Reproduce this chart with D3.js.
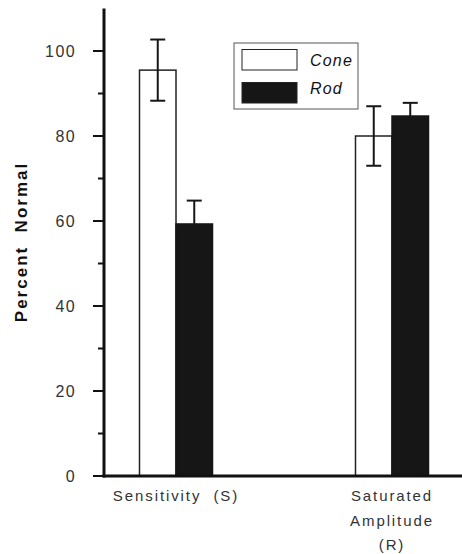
<!DOCTYPE html>
<html>
<head>
<meta charset="utf-8">
<script src="https://cdn.jsdelivr.net/npm/d3@7"></script>
<style>
  html, body { margin: 0; padding: 0; background: #fff; }
  svg { display: block; }
  text { font-family: "Liberation Sans", Arial, sans-serif; }
</style>
</head>
<body>
<svg id="chart" width="462" height="554"></svg>
<script>
// ---- data ----
const categories = ["Sensitivity (S)", "Saturated Amplitude (R)"];
const categoryLines = [["Sensitivity  (S)"], ["Saturated", "Amplitude", "(R)"]];
const seriesNames = ["Cone", "Rod"];
const coneValues = [95.5, 80.0];
const coneErrors = [7.2, 7.0];
const rodValues = [59.3, 84.7];
const rodErrors = [5.5, 3.1];
const yTicks = [0, 20, 40, 60, 80, 100];
const yMinorTicks = [10, 30, 50, 70, 90];

const seriesValues = { Cone: coneValues, Rod: rodValues };
const seriesErrors = { Cone: coneErrors, Rod: rodErrors };
const seriesFill = { Cone: "#ffffff", Rod: "#161616" };

const svg = d3.select("#chart");

const y = d3.scaleLinear().domain([0, 110]).range([476, 8.5]);
const x = d3.scalePoint().domain(categories).range([176, 392]);
const xs = d3.scaleBand().domain(seriesNames).range([-36.5, 36.5]).padding(0);

const axisX = 104;

// y axis line
svg.append("line")
  .attr("x1", axisX).attr("x2", axisX)
  .attr("y1", y(110)).attr("y2", y(0) + 1.5)
  .attr("stroke", "#111").attr("stroke-width", 3);

// bars
const data = [];
categories.forEach((c, i) => seriesNames.forEach(s => data.push({ c, s, v: seriesValues[s][i], e: seriesErrors[s][i] })));

svg.selectAll("rect.bar").data(data).enter().append("rect")
  .attr("class", "bar")
  .attr("x", d => x(d.c) + xs(d.s))
  .attr("y", d => y(d.v))
  .attr("width", xs.bandwidth())
  .attr("height", d => y(0) - y(d.v))
  .attr("fill", d => seriesFill[d.s])
  .attr("stroke", d => d.s === "Cone" ? "#222" : "#161616")
  .attr("stroke-width", 1.5);

// error bars
const eb = svg.selectAll("g.eb").data(data).enter().append("g").attr("class", "eb");
eb.append("line")
  .attr("x1", d => x(d.c) + xs(d.s) + xs.bandwidth() / 2)
  .attr("x2", d => x(d.c) + xs(d.s) + xs.bandwidth() / 2)
  .attr("y1", d => y(d.v + d.e))
  .attr("y2", d => d.s === "Rod" ? y(d.v) : y(d.v - d.e))
  .attr("stroke", "#161616").attr("stroke-width", 2);
eb.append("line")
  .attr("x1", d => x(d.c) + xs(d.s) + xs.bandwidth() / 2 - 7.5)
  .attr("x2", d => x(d.c) + xs(d.s) + xs.bandwidth() / 2 + 7.5)
  .attr("y1", d => y(d.v + d.e)).attr("y2", d => y(d.v + d.e))
  .attr("stroke", "#161616").attr("stroke-width", 2);
eb.filter(d => d.s === "Cone").append("line")
  .attr("x1", d => x(d.c) + xs(d.s) + xs.bandwidth() / 2 - 7.5)
  .attr("x2", d => x(d.c) + xs(d.s) + xs.bandwidth() / 2 + 7.5)
  .attr("y1", d => y(d.v - d.e)).attr("y2", d => y(d.v - d.e))
  .attr("stroke", "#161616").attr("stroke-width", 2);

// x axis baseline
svg.append("line")
  .attr("x1", axisX - 1.5).attr("x2", 462)
  .attr("y1", y(0)).attr("y2", y(0))
  .attr("stroke", "#111").attr("stroke-width", 3);

// y ticks
svg.selectAll("line.major").data(yTicks).enter().append("line")
  .attr("x1", axisX - 11).attr("x2", axisX)
  .attr("y1", d => y(d)).attr("y2", d => y(d))
  .attr("stroke", "#111").attr("stroke-width", 2);
svg.selectAll("line.minor").data(yMinorTicks).enter().append("line")
  .attr("x1", axisX - 6).attr("x2", axisX)
  .attr("y1", d => y(d)).attr("y2", d => y(d))
  .attr("stroke", "#111").attr("stroke-width", 2);
svg.selectAll("text.tick").data(yTicks).enter().append("text")
  .attr("x", 76).attr("y", d => y(d) + 6)
  .attr("text-anchor", "end")
  .attr("font-size", 16).attr("letter-spacing", 1.4)
  .attr("fill", "#333")
  .text(d => d);

// y label
svg.append("text")
  .attr("transform", "translate(27,242) rotate(-90)")
  .attr("text-anchor", "middle")
  .attr("font-size", 17).attr("font-weight", "bold").attr("letter-spacing", 2)
  .attr("fill", "#111")
  .attr("xml:space", "preserve")
  .style("white-space", "pre")
  .text("Percent  Normal");

// category labels
categories.forEach((c, i) => {
  const t = svg.append("text")
    .attr("x", x(c)).attr("y", 501)
    .attr("text-anchor", "middle")
    .attr("font-size", 15).attr("letter-spacing", 1.9)
    .attr("fill", "#333")
    .attr("xml:space", "preserve")
    .style("white-space", "pre");
  categoryLines[i].forEach((ln, j) => {
    t.append("tspan").attr("x", x(c)).attr("dy", j === 0 ? 0 : 24.5).text(ln);
  });
});

// legend
const lg = svg.append("g");
lg.append("rect").attr("x", 234).attr("y", 43).attr("width", 124).attr("height", 66)
  .attr("fill", "#fff").attr("stroke", "#555").attr("stroke-width", 1);
seriesNames.forEach((s, i) => {
  lg.append("rect").attr("x", 242).attr("y", 49.5 + i * 33).attr("width", 55).attr("height", 20.5)
    .attr("fill", seriesFill[s]).attr("stroke", "#222").attr("stroke-width", 1);
  lg.append("text").attr("x", 310).attr("y", 65.5 + i * 28.5)
    .attr("font-size", 16).attr("font-style", "italic").attr("letter-spacing", 1.2)
    .attr("fill", "#111").text(s);
});
</script>
</body>
</html>
